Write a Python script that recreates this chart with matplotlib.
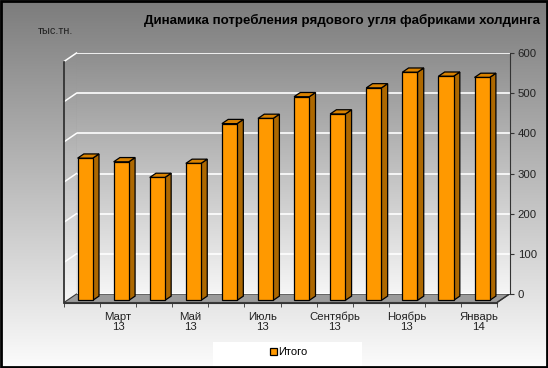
import numpy as np
import matplotlib
matplotlib.use("Agg")
import matplotlib.pyplot as plt
from matplotlib.colors import to_rgb
from matplotlib.patches import Polygon, Rectangle

plt.rcParams['font.family'] = ['Liberation Sans', 'DejaVu Sans']

# данные
months = ["Февраль\n13", "Март\n13", "Апрель\n13", "Май\n13", "Июнь\n13", "Июль\n13",
          "Август\n13", "Сентябрь\n13", "Октябрь\n13", "Ноябрь\n13", "Декабрь\n13", "Январь\n14"]
values = [354, 345, 306, 341, 440, 453, 507, 464, 529, 568, 558, 555]
y_ticks = [0, 100, 200, 300, 400, 500, 600]
series_name = "Итого"
title = "Динамика потребления рядового угля фабриками холдинга"

W, H = 548, 368
DX, DY = -12.5, 8.5          # сдвиг от задней стенки к переднему краю, px
WALL_L, WALL_B, WALL_W, WALL_H = 76.5, 294, 433, 241

fig = plt.figure(figsize=(W / 100, H / 100), dpi=100)


def gradient(c_top, c_bottom, n=256):
    t = np.linspace(0, 1, n)[:, None]
    return (np.array(to_rgb(c_top)) * (1 - t) + np.array(to_rgb(c_bottom)) * t)[:, None, :]


# фон в пиксельных координатах
bg = fig.add_axes([0, 0, 1, 1], zorder=0)
bg.axis('off')
bg.imshow(gradient('#7c7c7c', '#fcfcfc'), extent=(0, W, H, 0), aspect='auto')
bg.set_xlim(0, W)
bg.set_ylim(H, 0)
bg.set_autoscale_on(False)


def plane(d, z):
    left = WALL_L + DX * d
    base = WALL_B + DY * d
    ax = fig.add_axes([left / W, 1 - base / H, WALL_W / W, WALL_H / H], zorder=z)
    ax.set_facecolor('none')
    ax.set_xlim(-0.5, len(values) - 0.5)
    ax.set_ylim(0, 600)
    for s in ax.spines.values():
        s.set_visible(False)
    return ax


ax_back = plane(0, 1)
ax_bar = plane(0.75, 2)
ax_front = plane(1, 3)
x_lo, x_hi = -0.5, len(values) - 0.5


def to_bg(ax, pts):
    return bg.transData.inverted().transform(ax.transData.transform(pts))


# задняя стенка
ax_back.imshow(gradient('#8e8e8e', '#f6f6f6'), extent=(x_lo, x_hi, 0, 600), aspect='auto', zorder=0)
ax_back.set_xlim(x_lo, x_hi)
ax_back.set_ylim(0, 600)
ax_back.set_xticks([])
ax_back.yaxis.tick_right()
ax_back.set_yticks(y_ticks)
ax_back.grid(axis='y', color='white', lw=1.2)
ax_back.spines['right'].set_visible(True)
ax_back.spines['right'].set_color('#333333')
ax_back.tick_params(axis='y', direction='out', length=3, width=0.8, color='#333333',
                    labelsize=8.2, labelcolor='#222222', pad=3)

# левая стенка
lw_pts = np.vstack([to_bg(ax_back, [(x_lo, 0), (x_lo, 600)]),
                    to_bg(ax_front, [(x_lo, 600), (x_lo, 0)])])
left_wall = Polygon(lw_pts, fc='none', ec='none')
bg.add_patch(left_wall)
im = bg.imshow(gradient('#8e8e8e', '#f6f6f6'),
               extent=(lw_pts[:, 0].min(), lw_pts[:, 0].max(), lw_pts[:, 1].max(), lw_pts[:, 1].min()),
               aspect='auto')
im.set_clip_path(left_wall)
for v in y_ticks[1:]:
    p = np.vstack([to_bg(ax_back, [(x_lo, v)]), to_bg(ax_front, [(x_lo, v)])])
    bg.plot(p[:, 0], p[:, 1], color='white', lw=1.1)

# пол
floor = np.vstack([to_bg(ax_back, [(x_lo, 0), (x_hi, 0)]),
                   to_bg(ax_front, [(x_hi, 0), (x_lo, 0)])])
bg.add_patch(Polygon(floor, fc='#9b9b9b', ec='#3a3a3a', lw=0.8))

# столбцы
x = np.arange(len(values))
bw = 0.42
ddx = 0.5 * (-DX) / (WALL_W / len(values))
ddy = 0.5 * DY / (WALL_H / 600)
bars = ax_bar.bar(x, values, width=bw, color='#ff9900', edgecolor='black', linewidth=0.9,
                  label=series_name, zorder=3, clip_on=False)
for xi, v in zip(x, values):
    xl, xr = xi - bw / 2, xi + bw / 2
    ax_bar.add_patch(Polygon([(xr, 0), (xr, v), (xr + ddx, v + ddy), (xr + ddx, ddy)],
                             fc='#ad6800', ec='black', lw=0.9, zorder=2, clip_on=False))
    ax_bar.add_patch(Polygon([(xl, v), (xr, v), (xr + ddx, v + ddy), (xl + ddx, v + ddy)],
                             fc='#d98200', ec='black', lw=0.9, zorder=2, clip_on=False))
ax_bar.set_xticks([])
ax_bar.set_yticks([])

# передний край: оси и подписи
ax_front.spines['left'].set_visible(True)
ax_front.spines['bottom'].set_visible(True)
ax_front.spines['left'].set_color('#333333')
ax_front.spines['bottom'].set_color('#333333')
ax_front.spines['left'].set_linewidth(1.3)
ax_front.set_yticks([])
ax_front.set_xticks(x[1::2])
ax_front.set_xticklabels(months[1::2], fontsize=8.2, color='#222222', linespacing=1.0)
ax_front.set_xticks(np.arange(x_lo, x_hi + 0.01, 1), minor=True)
ax_front.tick_params(axis='x', which='major', length=0, pad=6.5)
ax_front.tick_params(axis='x', which='minor', length=3, direction='out', color='#333333')

# правое ребро пола
p = np.vstack([to_bg(ax_back, [(x_hi, 0)]), to_bg(ax_front, [(x_hi, 0)])])
bg.plot(p[:, 0], p[:, 1], color='#333333', lw=1)

# тексты
fig.text(540 / W, 1 - 20 / H, title, ha='right', va='center', fontsize=9.6, fontweight='bold')
fig.text(38 / W, 1 - 31 / H, "тыс.тн.", ha='left', va='center', fontsize=7.8, color='#222222')

# легенда
bg.add_patch(Rectangle((213, 342), 149, 26, fc='white', ec='none'))
fig.legend(handles=[bars], labels=[series_name], loc='center', bbox_to_anchor=(289 / W, 1 - 352 / H),
           frameon=False, fontsize=8, handlelength=0.6, handleheight=0.6, handletextpad=0.15)

bg.add_patch(Rectangle((1, 1), W - 2, H - 2, fc='none', ec='black', lw=2))

plt.savefig("out.png", dpi=100)
plt.close()
